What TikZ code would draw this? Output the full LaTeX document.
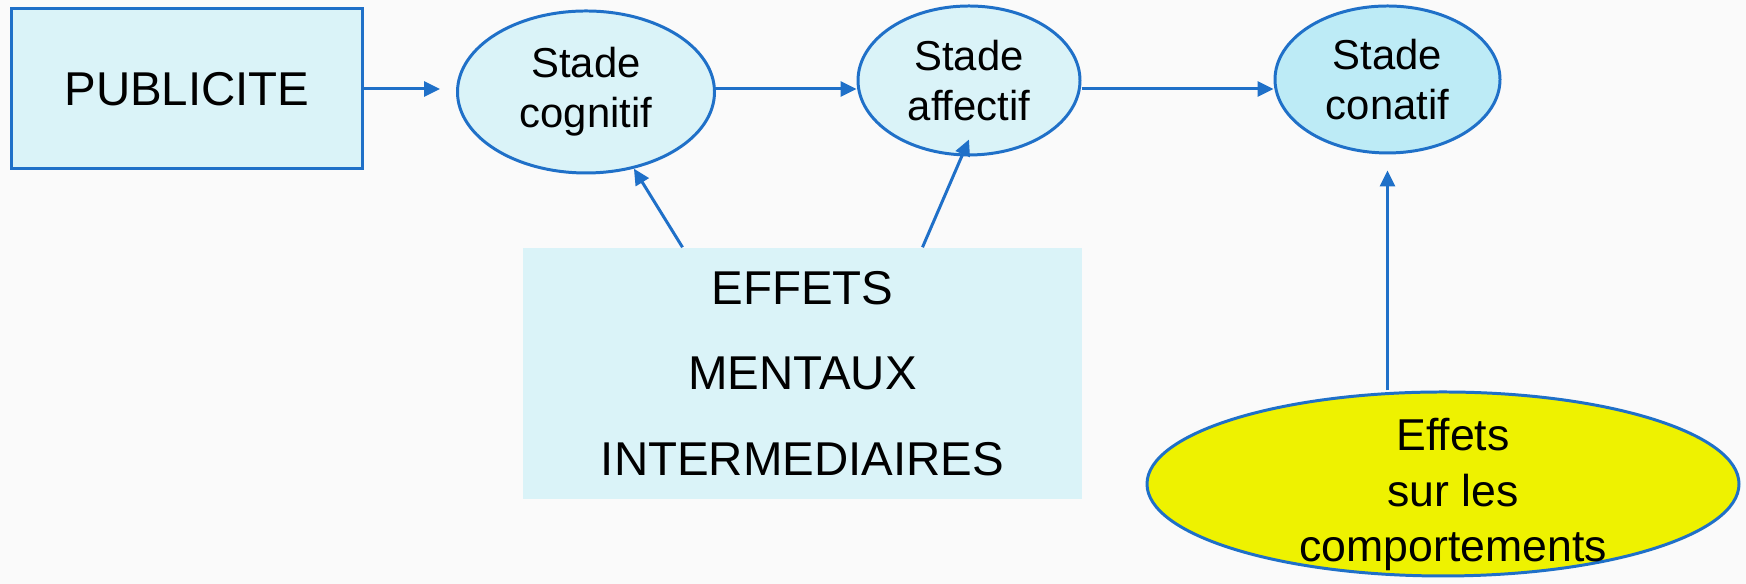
\documentclass[tikz,border=0pt]{standalone}
\usepackage{fontspec}
\setmainfont{Liberation Sans}
\usetikzlibrary{arrows.meta,shapes.geometric}
\definecolor{edgeblue}{HTML}{1F70C8}
\definecolor{paleblue}{HTML}{DAF3F8}
\definecolor{midblue}{HTML}{BDEBF6}
\definecolor{lemon}{HTML}{EEF200}
\definecolor{pagegrey}{HTML}{FAFAFA}

\begin{document}
\begin{tikzpicture}[>={Triangle[length=1.6mm,width=1.5mm]},
  link/.style={->, draw=edgeblue, line width=0.85pt},
  stage/.style={ellipse, draw=edgeblue, line width=0.85pt, fill=paleblue,
                align=center, inner sep=0pt, font=\fontsize{11.9}{14.2}\selectfont},
  big/.style={align=center, inner sep=0pt, font=\fontsize{13.5}{24.3}\selectfont}]
% page
\fill[pagegrey] (0,0) rectangle (17.46,5.84);
\useasboundingbox (0,0) rectangle (17.46,5.84);
% top row
\node[big, draw=edgeblue, line width=0.85pt, fill=paleblue, minimum width=35.1mm, minimum height=16mm] (pub) at (1.87,4.95) {PUBLICITE};
\node[stage, minimum width=25.7mm, minimum height=16.2mm] (cog) at (5.86,4.92) {Stade\\ cognitif};
\node[stage, minimum width=22.2mm, minimum height=14.9mm] (aff) at (9.69,5.035) {Stade\\ affectif};
\node[stage, fill=midblue, minimum width=22.5mm, minimum height=14.7mm] (con) at (13.875,5.045) {Stade\\ conatif};
\coordinate (row) at (0,4.95);
\draw[link, shorten >=1.6mm] (pub.east) -- (pub.east -| cog.west);
\draw[link] (cog.east |- row) -- (aff.west |- row); \draw[link] (aff.east |- row) -- (con.west |- row);
% lower boxes
\node[big, fill=paleblue, minimum width=55.9mm, minimum height=25.1mm] (eff) at (8.025,2.105) {EFFETS\\ MENTAUX\\ INTERMEDIAIRES};
\node[ellipse, draw=edgeblue, line width=0.85pt, fill=lemon, minimum width=59.2mm, minimum height=18.4mm] (beh) at (14.43,1.00) {};
\node[align=center, inner sep=0pt, font=\fontsize{12.7}{15.9}\selectfont] (behtxt) at (14.53,0.895) {Effets\\ sur les\\ comportements};
\draw[link] ([xshift=-12mm]eff.north) -- (cog.-58);
\draw[link] ([xshift=12mm]eff.north) -- ([yshift=1.7mm]aff.south);
\draw[link] (con.south |- beh.north) -- ([yshift=-1.6mm]con.south);
\end{tikzpicture}
\end{document}
